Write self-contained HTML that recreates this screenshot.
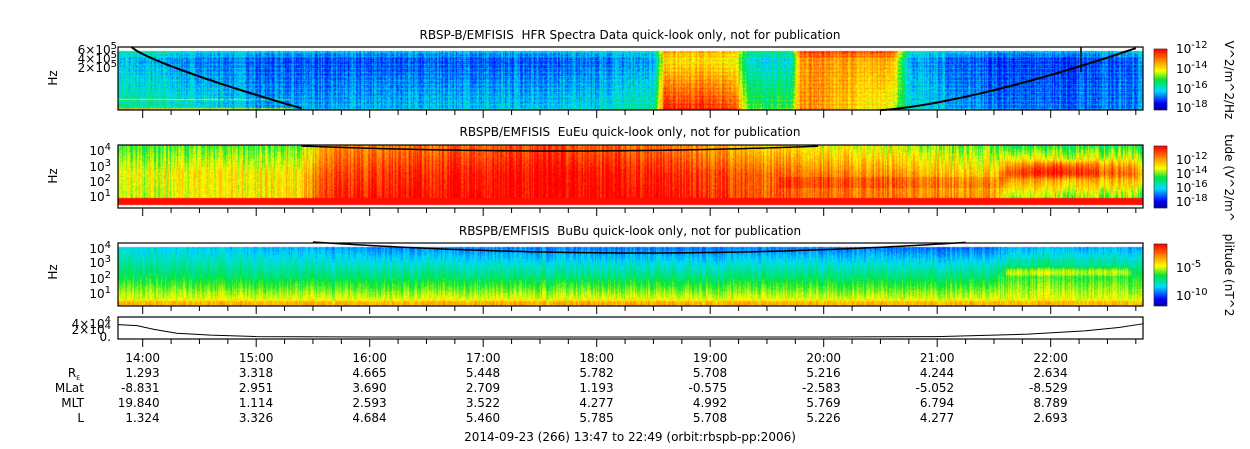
<!DOCTYPE html>
<html><head><meta charset="utf-8">
<style>
body{margin:0;background:#fff;width:1250px;height:449px;overflow:hidden;font-family:"Liberation Sans","DejaVu Sans",sans-serif;}
#wrap{position:relative;width:1250px;height:449px;}
canvas{position:absolute;left:0;top:0;}
svg{position:absolute;left:0;top:0;}
text{font-family:"DejaVu Sans","Liberation Sans",sans-serif;font-size:12px;fill:#000;}
</style></head>
<body>
<div id="wrap">
<canvas id="cv" width="1250" height="449"></canvas>
<svg id="sv" width="1250" height="449"></svg>
</div>
<script>
// ---- data (hours UT) ----
const hourTicks = [14,15,16,17,18,19,20,21,22];
const tickLabels = ["14:00","15:00","16:00","17:00","18:00","19:00","20:00","21:00","22:00"];
const reVals = ["1.293","3.318","4.665","5.448","5.782","5.708","5.216","4.244","2.634"];
const mlatVals = ["-8.831","2.951","3.690","2.709","1.193","-0.575","-2.583","-5.052","-8.529"];
const mltVals = ["19.840","1.114","2.593","3.522","4.277","4.992","5.769","6.794","8.789"];
const lVals = ["1.324","3.326","4.684","5.460","5.785","5.708","5.226","4.277","2.693"];
// HFR panel intensity (0..1 colour scale)
const hfrTimes = [13.78,14.6,15.0,16.0,17.0,18.0,18.5,18.6,19.2,19.35,19.7,19.8,20.6,20.75,21.5,22.0,22.82];
const hfrTop   = [0.26,0.2,0.17,0.15,0.15,0.17,0.22,0.62,0.6,0.28,0.28,0.78,0.78,0.25,0.14,0.14,0.2];
const hfrBot   = [0.42,0.34,0.26,0.28,0.3,0.32,0.42,0.95,0.92,0.5,0.5,0.8,0.62,0.35,0.22,0.2,0.24];
// EuEu panel
const euTimes = [13.78,14.5,15.4,15.6,16.5,17.5,18.5,19.5,20.5,21.5,21.6,22.82];
const euTop   = [0.5,0.55,0.55,0.8,0.85,0.9,0.85,0.7,0.62,0.55,0.5,0.5];
const euMid   = [0.62,0.68,0.7,0.9,0.95,1.0,0.96,0.86,0.8,0.72,0.86,0.8];
const euBot   = [0.58,0.66,0.72,0.95,1.0,1.0,1.0,0.88,0.84,0.8,0.6,0.55];
// BuBu panel
const buTimes = [13.78,15.0,16.0,18.0,20.0,21.5,21.6,22.82];
const buTop   = [0.32,0.27,0.22,0.2,0.2,0.18,0.24,0.24];
const buMid   = [0.48,0.44,0.44,0.43,0.44,0.44,0.52,0.5];
const buBot   = [0.7,0.7,0.7,0.72,0.7,0.7,0.68,0.68];
// orbit altitude-like line (bottom panel, units 1e4)
const altTimes = [13.78,13.95,14.1,14.3,14.6,15.0,16,20,21,21.8,22.3,22.6,22.82];
const altVals  = [2.8,2.6,1.8,1.0,0.6,0.3,0.2,0.2,0.3,0.8,1.5,2.2,3.0];

const T0=13.783;
const PX=113.5;
const xOf = h => 142.7 + (h-14)*PX;
const panels = [
 {name:"hfr",top:47,bot:110,times:hfrTimes,a:hfrTop,b:hfrBot},
 {name:"eueu",top:145,bot:208,times:euTimes,a:euTop,b:euMid,c:euBot},
 {name:"bubu",top:243,bot:306,times:buTimes,a:buTop,b:buMid,c:buBot}
];
function interp(ts,vs,t){
 if(t<=ts[0])return vs[0];
 for(let i=1;i<ts.length;i++){ if(t<=ts[i]){const f=(t-ts[i-1])/(ts[i]-ts[i-1]);return vs[i-1]+f*(vs[i]-vs[i-1]);}}
 return vs[vs.length-1];
}
function hash(a,b){let h=(a*374761393+b*668265263)|0;h=(h^(h>>>13))*1274126177|0;return ((h^(h>>>16))>>>0)/4294967296;}
function jet(v){
 v=Math.max(0,Math.min(1,v));
 const st=[[0,[0,0,140]],[0.12,[0,0,255]],[0.32,[0,220,255]],[0.5,[0,230,60]],[0.65,[255,255,0]],[0.8,[255,150,0]],[1,[255,0,0]]];
 for(let i=1;i<st.length;i++){if(v<=st[i][0]){const f=(v-st[i-1][0])/(st[i][0]-st[i-1][0]);const a=st[i-1][1],b=st[i][1];return [a[0]+f*(b[0]-a[0]),a[1]+f*(b[1]-a[1]),a[2]+f*(b[2]-a[2])];}}
 return [255,0,0];
}
const cv=document.getElementById('cv');const ctx=cv.getContext('2d');
const W=1250,H=449;const img=ctx.createImageData(W,H);
for(let i=0;i<img.data.length;i+=4){img.data[i]=255;img.data[i+1]=255;img.data[i+2]=255;img.data[i+3]=255;}
const x0=Math.round(xOf(T0)), x1=Math.round(xOf(22.817));
panels.forEach((p,pi)=>{
 for(let x=x0;x<x1;x++){
  const t=14+(x-142.7)/PX;
  const colN=(hash(x,pi*7+1)-0.5)*0.18;
  for(let y=p.top;y<p.bot;y++){
   const f=(y-p.top)/(p.bot-p.top);
   let v;
   if(pi===0){
     if(f<0.06){continue;}
     v=interp(p.times,p.a,t)*(1-f)+interp(p.times,p.b,t)*f;
     if(f<0.2) v+=0.12*(0.2-f)/0.14;
     if(y%4===0) v+=0.05;
     if(t<15.3 && f>0.75 && y%9===0) v+=0.3;
     v+=colN*0.7+(hash(x*3,y)-0.5)*0.1;
   } else if(pi===1){
     if(f>0.95){continue;}
     if(f>0.84){v=0.98;}
     else{
      const a=interp(p.times,p.a,t),b=interp(p.times,p.b,t),c=interp(p.times,p.c,t);
      v=f<0.45?a+(b-a)*(f/0.45):b+(c-b)*((f-0.45)/0.39);
      if(t>21.6&&t<22.75){const w=1-Math.abs(t-22.1)/0.7;const d=Math.abs(f-0.38)/0.16;if(d<1)v+=0.18*(1-d*d)*Math.max(0.3,w);}
      if(t<21.6&&t>19.6&&f>0.5&&f<0.68) v+=0.06;
      v+=colN+(hash(x,y*5)-0.5)*0.08;
     }
   } else {
     if(f<0.05){continue;}
     const a=interp(p.times,p.a,t),b=interp(p.times,p.b,t),c=interp(p.times,p.c,t);
     v=f<0.5?a+(b-a)*(f/0.5):b+(c-b)*((f-0.5)/0.5);
     if(f>0.92)v+=0.08;
     if(t>21.6&&t<22.7){const d=Math.abs(f-0.45)/0.08;if(d<1)v+=0.12*(1-d*d);}
     v+=colN*0.6+(hash(x,y*3)-0.5)*0.06;
   }
   const c=jet(v);const k=(y*W+x)*4;
   img.data[k]=c[0];img.data[k+1]=c[1];img.data[k+2]=c[2];
  }
 }
});
// colorbars
const cbs=[[49,110],[146,208],[244,306]];
cbs.forEach(([a,b])=>{for(let y=a;y<b;y++){const c=jet(1-(y-a)/(b-a));for(let x=1154;x<1167;x++){const k=(y*W+x)*4;img.data[k]=c[0];img.data[k+1]=c[1];img.data[k+2]=c[2];}}});
ctx.putImageData(img,0,0);

// ---- SVG overlay ----
const NS="http://www.w3.org/2000/svg";const sv=document.getElementById('sv');
function el(tag,attrs,parent){const e=document.createElementNS(NS,tag);for(const k in attrs)e.setAttribute(k,attrs[k]);(parent||sv).appendChild(e);return e;}
function txt(x,y,s,anchor,name,size){const e=el('text',{x:x,y:y,'text-anchor':anchor||'start'});if(size)e.setAttribute('style','font-size:'+size+'px');e.innerHTML=s;


return e;}
function curve(pts,name,w){const e=el('polyline',{points:pts.map(p=>p.join(',')).join(' '),fill:'none',stroke:'#000','stroke-width':w||2});

}
const cL=[],cR=[];
for(let h=13.9;h<=15.45;h+=0.05){cL.push([xOf(h),47+63*Math.pow((h-13.9)/1.55,0.8)]);}
for(let h=20.5;h<=22.78;h+=0.05){cR.push([xOf(h),110-63*Math.pow((h-20.5)/2.28,1.4)]);}
curve(cL,'plasma-line-left');curve(cR,'plasma-line-right');
el('line',{x1:1081,y1:47,x2:1081,y2:72,stroke:'#000','stroke-width':1.5});
const c2=[];for(let h=15.4;h<=20.0;h+=0.05){const u=(h-17.7)/2.3;c2.push([xOf(h),146+5*(1-u*u)]);}
curve(c2,'fce-line-eueu',1.5);
const c3=[];for(let h=15.5;h<=21.3;h+=0.05){const u=(h-18.4)/2.9;c3.push([xOf(h),242+11*(1-u*u)]);}
curve(c3,'fce-line-bubu',1.5);
// frames
const frames=[[47,110,'hfr-frame'],[145,208,'eueu-frame'],[243,306,'bubu-frame'],[317,339,'altitude-frame']];
frames.forEach(([a,b,n])=>{const r=el('rect',{x:x0,y:a,width:x1-x0,height:b-a,fill:'none',stroke:'#000','stroke-width':1.2});


 for(let h=14;h<=22.75;h+=0.25){const major=Math.abs(h-Math.round(h))<1e-6;el('line',{x1:xOf(h),x2:xOf(h),y1:b,y2:b+(major?8:5),stroke:'#000'});}
});
[[49,110],[146,208],[244,306]].forEach(([a,b])=>{el('rect',{x:1154,y:a,width:13,height:b-a,fill:'none',stroke:'#000','stroke-width':0.5});});
// altitude line
const ap=altTimes.map((t,i)=>[xOf(t),338-altVals[i]/4.4*21]);
const al=el('polyline',{points:ap.map(p=>p.join(',')).join(' '),fill:'none',stroke:'#000','stroke-width':1});


// titles
txt(630,39,'RBSP-B/EMFISIS&#160; HFR Spectra Data quick-look only, not for publication','middle','hfr-title');
txt(630,136,'RBSPB/EMFISIS&#160; EuEu quick-look only, not for publication','middle','eueu-title');
txt(630,235,'RBSPB/EMFISIS&#160; BuBu quick-look only, not for publication','middle','bubu-title');
[[78,'hfr-y-title'],[176,'eueu-y-title'],[272,'bubu-y-title']].forEach(([y,n])=>{const e=txt(0,0,'Hz','middle',n);e.setAttribute('transform','translate(57,'+y+') rotate(-90)');});
function sup(x,y,base,exp,name,anchor){const e=txt(x,y,base+'<tspan dy="-5" style="font-size:10px">'+exp+'</tspan>',anchor||'end',name);return e;}
sup(117,54,'6×10','5','hfr-ytick-6e5');sup(117,63,'4×10','5','hfr-ytick-4e5');sup(117,72,'2×10','5','hfr-ytick-2e5');
[[155,'4'],[171,'3'],[186,'2'],[201,'1']].forEach(([y,e])=>sup(111,y,'10',e,'eueu-ytick-'+e));
[[253,'4'],[267,'3'],[283,'2'],[298,'1']].forEach(([y,e])=>sup(111,y,'10',e,'bubu-ytick-'+e));
sup(111,328,'4×10','4','alt-ytick-4e4');sup(111,334,'2×10','4','alt-ytick-2e4');txt(111,341,'0.','end','alt-ytick-0');
[[53,'-12'],[73,'-14'],[93,'-16'],[112,'-18']].forEach(([y,e])=>sup(1176,y,'10',e,'hfr-cbar-tick','start'));
[[164,'-12'],[178,'-14'],[192,'-16'],[206,'-18']].forEach(([y,e])=>sup(1176,y,'10',e,'eueu-cbar-tick','start'));
[[272,'-5'],[300,'-10']].forEach(([y,e])=>sup(1176,y,'10',e,'bubu-cbar-tick','start'));
[[80,'V^2/m^2/Hz'],[178,'tude (V^2/m^'],[275,'plitude (nT^2']].forEach(([y,s],i)=>{const e=txt(0,0,s,'middle','cbar-title-'+i);e.setAttribute('transform','translate(1225,'+y+') rotate(90)');});
// ephemeris table
hourTicks.forEach((h,i)=>{const x=xOf(h);
 txt(x,362,tickLabels[i],'middle','time-label-'+i);
 txt(x+17,377,reVals[i],'end','re-value-'+i);
 txt(x+17,392,mlatVals[i],'end','mlat-value-'+i);
 txt(x+17,407,mltVals[i],'end','mlt-value-'+i);
 txt(x+17,422,lVals[i],'end','l-value-'+i);
});
txt(80,377,'R<tspan dy="3" style="font-size:6px">E</tspan>','end','re-row-label');
txt(84,392,'MLat','end','mlat-row-label');
txt(84,407,'MLT','end','mlt-row-label');
txt(84,422,'L','end','l-row-label');
txt(630,441,'2014-09-23 (266) 13:47 to 22:49 (orbit:rbspb-pp:2006)','middle','footer-caption');
</script>
</body></html>
